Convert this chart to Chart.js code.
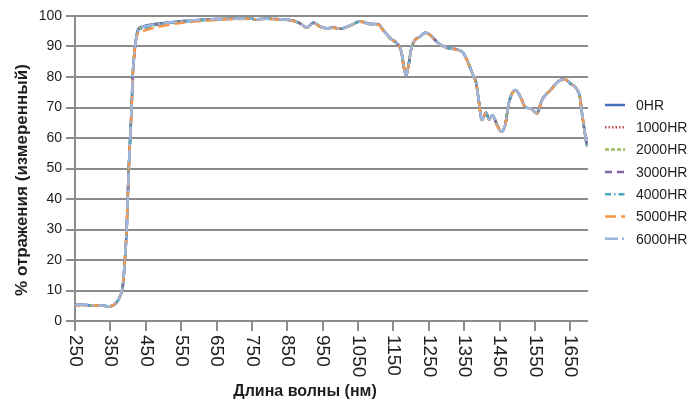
<!DOCTYPE html>
<html>
<head>
<meta charset="utf-8">
<script src="https://cdn.jsdelivr.net/npm/chart.js"></script>
<style>
  body { margin: 0; background: #fff; }
  #wrap { width: 694px; height: 409px; }
</style>
</head>
<body>
<div id="wrap"><canvas id="myChart" width="694" height="409"></canvas></div>
<script>
// Wavelength points (nm)
var wavelengths = [250,270,290,310,330,345,355,365,377,385,391,396,399,402,406,410,413,418,422,428,440,462,500,547,600,650,700,745,760,790,830,872,890,905,924,943,962,980,1000,1028,1056,1085,1107,1121,1141,1160,1172,1180,1186,1193,1200,1210,1226,1240,1254,1275,1301,1330,1345,1358,1372,1384,1391,1400,1412,1421,1430,1443,1455,1466,1476,1495,1509,1523,1537,1556,1570,1594,1622,1636,1650,1667,1677,1683,1690,1697,1700];

// % reflectance for each exposure time
var r0HR    = [5.2,5.3,5.2,5.1,5.0,4.8,5.0,5.8,8.0,11.5,20,30,40,50,60,70,80,88,92,95.6,96.5,97.1,97.7,98.3,98.7,99.0,99.1,99.2,98.9,99.1,98.9,98.3,97.3,96.2,97.8,96.5,96.0,96.2,95.8,96.9,98.2,97.4,97.3,95.4,92.7,91.0,88.5,83.0,80.6,84.0,89.0,92.0,93.3,94.5,93.8,91.3,89.6,89.0,88.2,85.6,81.5,77.9,72.5,65.9,68.3,66.1,67.5,64.3,62.1,64.3,71.4,75.7,73.5,70.1,69.7,68.1,72.5,75.7,79.0,79.2,77.9,76.3,73.5,68.1,62.6,57.7,57.4];
var r1000HR = [5.2,5.3,5.2,5.1,5.0,4.8,5.0,5.8,8.0,11.5,20,30,40,50,60,70,80,88,92,95.4,96.3,97.0,97.6,98.2,98.7,99.0,99.1,99.2,98.9,99.1,98.9,98.3,97.3,96.2,97.8,96.5,96.0,96.2,95.8,96.9,98.2,97.4,97.3,95.4,92.7,91.0,88.5,83.0,80.6,84.0,89.0,92.0,93.3,94.5,93.8,91.3,89.6,89.0,88.2,85.6,81.5,77.9,72.5,65.9,68.3,66.1,67.5,64.3,62.1,64.3,71.4,75.7,73.5,70.1,69.7,68.1,72.5,75.7,79.0,79.2,77.9,76.3,73.5,68.1,62.6,57.7,57.4];
var r2000HR = [5.2,5.3,5.2,5.1,5.0,4.8,5.0,5.8,8.0,11.5,20,30,40,50,60,70,80,88,92,95.3,96.2,96.9,97.5,98.2,98.6,99.0,99.1,99.2,98.9,99.1,98.9,98.3,97.3,96.2,97.8,96.5,96.0,96.2,95.8,96.9,98.2,97.4,97.3,95.4,92.7,91.0,88.5,83.0,80.6,84.0,89.0,92.0,93.3,94.5,93.8,91.3,89.6,89.0,88.2,85.6,81.5,77.9,72.5,65.9,68.3,66.1,67.5,64.3,62.1,64.3,71.4,75.7,73.5,70.1,69.7,68.1,72.5,75.7,79.0,79.2,77.9,76.3,73.5,68.1,62.6,57.7,57.4];
var r3000HR = [5.2,5.3,5.2,5.1,5.0,4.8,5.0,5.8,8.0,11.5,20,30,40,50,60,70,80,88,92,95.2,96.0,96.7,97.4,98.1,98.6,98.9,99.1,99.2,98.9,99.1,98.9,98.3,97.3,96.2,97.8,96.5,96.0,96.2,95.8,96.9,98.2,97.4,97.3,95.4,92.7,91.0,88.5,83.0,80.6,84.0,89.0,92.0,93.3,94.5,93.8,91.3,89.6,89.0,88.2,85.6,81.5,77.9,72.5,65.9,68.3,66.1,67.5,64.3,62.1,64.3,71.4,75.7,73.5,70.1,69.7,68.1,72.5,75.7,79.0,79.2,77.9,76.3,73.5,68.1,62.6,57.7,57.4];
var r4000HR = [5.2,5.3,5.2,5.1,5.0,4.8,5.0,5.8,8.0,11.5,20,30,40,50,60,70,80,88,92,95.0,95.8,96.5,97.3,98.0,98.5,98.9,99.1,99.2,98.9,99.1,98.9,98.3,97.3,96.2,97.8,96.5,96.0,96.2,95.8,96.9,98.2,97.4,97.3,95.4,92.7,91.0,88.5,83.0,80.6,84.0,89.0,92.0,93.3,94.5,93.8,91.3,89.6,89.0,88.2,85.6,81.5,77.9,72.5,65.9,68.3,66.1,67.5,64.3,62.1,64.3,71.4,75.7,73.5,70.1,69.7,68.1,72.5,75.7,79.0,79.2,77.9,76.3,73.5,68.1,62.6,57.7,57.4];
var r5000HR = [5.0,5.2,5.1,5.1,5.0,4.8,5.0,5.8,8.0,11.5,20,30,40,50,60,70,80,88,91.5,94.5,95.0,95.8,96.8,97.7,98.3,98.7,99.0,99.1,98.9,99.0,98.8,98.2,97.2,96.1,97.7,96.4,96.0,96.1,95.8,96.8,98.1,97.3,97.2,95.3,92.6,90.9,88.4,83.0,80.6,84.0,89.0,91.9,93.2,94.4,93.7,91.2,89.5,88.9,88.1,85.5,81.4,77.8,72.5,65.9,68.2,66.0,67.4,64.2,62.0,64.2,71.3,75.6,73.4,70.0,69.6,68.0,72.4,75.6,78.9,79.1,77.8,76.2,73.4,68.0,62.5,57.6,57.3];
var r6000HR = [5.2,5.3,5.2,5.1,5.0,4.8,5.0,5.8,8.0,11.5,20,30,40,50,60,70,80,88,92,95.5,96.4,97.0,97.6,98.3,98.7,99.0,99.1,99.2,98.9,99.1,98.9,98.3,97.3,96.2,97.8,96.5,96.0,96.2,95.8,96.9,98.2,97.4,97.3,95.4,92.7,91.0,88.5,83.0,80.6,84.0,89.0,92.0,93.3,94.5,93.8,91.3,89.6,89.0,88.2,85.6,81.5,77.9,72.5,65.9,68.3,66.1,67.5,64.3,62.1,64.3,71.4,75.7,73.5,70.1,69.7,68.1,72.5,75.7,79.0,79.2,77.9,76.3,73.5,68.1,62.6,57.7,57.4];

var seriesNames = ["0HR", "1000HR", "2000HR", "3000HR", "4000HR", "5000HR", "6000HR"];
var seriesValues = [r0HR, r1000HR, r2000HR, r3000HR, r4000HR, r5000HR, r6000HR];
var seriesColors = ["#4170b8", "#c0504d", "#9bbb59", "#8064a2", "#4bacc6", "#f79646", "#a0b6df"];
var seriesDashes = [[], [1.5, 2], [4, 2], [7, 5], [6, 3, 1.5, 3], [11, 5], [13, 4, 2, 4]];

// Tick labels
var xTicks = [250, 350, 450, 550, 650, 750, 850, 950, 1050, 1150, 1250, 1350, 1450, 1550, 1650];
var yTicks = [0, 10, 20, 30, 40, 50, 60, 70, 80, 90, 100];

var xTitle = "Длина волны (нм)";
var yTitle = "% отражения (измеренный)";

var gridColor = "#8c8c8c";
var textColor = "#1e1e1e";
var fontName = "'Liberation Sans', Arial, sans-serif";

// Build datasets, last series is drawn on top like in the original
var datasets = [];
for (var i = 0; i < seriesNames.length; i++) {
  var pts = [];
  for (var j = 0; j < wavelengths.length; j++) {
    pts.push({ x: wavelengths[j], y: seriesValues[i][j] });
  }
  datasets.push({
    label: seriesNames[i],
    data: pts,
    borderColor: seriesColors[i],
    backgroundColor: seriesColors[i],
    borderDash: seriesDashes[i],
    borderWidth: 2.5,
    pointRadius: 0,
    cubicInterpolationMode: "monotone",
    order: seriesNames.length - i
  });
}

// Rotated x labels, axis titles and the legend
var extrasPlugin = {
  id: "extras",
  afterDraw: function (chart) {
    var ctx = chart.ctx;
    var xScale = chart.scales.x;
    var area = chart.chartArea;

    ctx.save();
    ctx.fillStyle = textColor;
    ctx.font = "19px " + fontName;
    ctx.textAlign = "left";
    ctx.textBaseline = "middle";
    xTicks.forEach(function (v) {
      var px = xScale.getPixelForValue(v);
      ctx.save();
      ctx.translate(px, area.bottom + 14);
      ctx.rotate(Math.PI / 2);
      ctx.fillText(String(v), 0, 0);
      ctx.restore();
    });

    ctx.font = "bold 16px " + fontName;
    ctx.textAlign = "center";
    ctx.fillText(xTitle, 305, 392);
    ctx.font = "bold 17px " + fontName;
    ctx.save();
    ctx.translate(22, 180);
    ctx.rotate(-Math.PI / 2);
    ctx.fillText(yTitle, 0, 0);
    ctx.restore();

    // legend
    ctx.font = "14px " + fontName;
    ctx.textAlign = "left";
    chart.data.datasets.forEach(function (ds, k) {
      var y = 105 + k * 22.3;
      ctx.beginPath();
      ctx.strokeStyle = ds.borderColor;
      ctx.lineWidth = 2.5;
      ctx.setLineDash(ds.borderDash);
      ctx.moveTo(605, y);
      ctx.lineTo(625, y);
      ctx.stroke();
      ctx.setLineDash([]);
      ctx.fillStyle = textColor;
      ctx.fillText(ds.label, 636, y + 1);
    });
    ctx.restore();
  }
};

var myChart = document.getElementById("myChart").getContext("2d");
var chart = new Chart(myChart, {
  type: "line",
  data: { datasets: datasets },
  options: {
    responsive: false,
    animation: false,
    devicePixelRatio: 1,
    layout: { padding: { left: 0, top: 16, right: 106, bottom: 0 } },
    plugins: { legend: { display: false }, tooltip: { enabled: false } },
    scales: {
      x: {
        type: "linear",
        min: 250,
        max: 1700,
        afterBuildTicks: function (scale) {
          scale.ticks = xTicks.map(function (v) { return { value: v }; });
        },
        afterFit: function (scale) { scale.height = 88; },
        ticks: { display: false },
        grid: { drawOnChartArea: false, color: gridColor, lineWidth: 2, tickLength: 10 },
        border: { display: false }
      },
      y: {
        min: 0,
        max: 100,
        afterBuildTicks: function (scale) {
          scale.ticks = yTicks.map(function (v) { return { value: v }; });
        },
        afterFit: function (scale) { scale.width = 75; },
        ticks: { color: textColor, font: { size: 14, family: fontName }, padding: 4 },
        grid: { color: gridColor, lineWidth: 2, tickLength: 9 },
        border: { display: true, color: gridColor, width: 2 }
      }
    }
  },
  plugins: [extrasPlugin]
});
</script>
</body>
</html>
